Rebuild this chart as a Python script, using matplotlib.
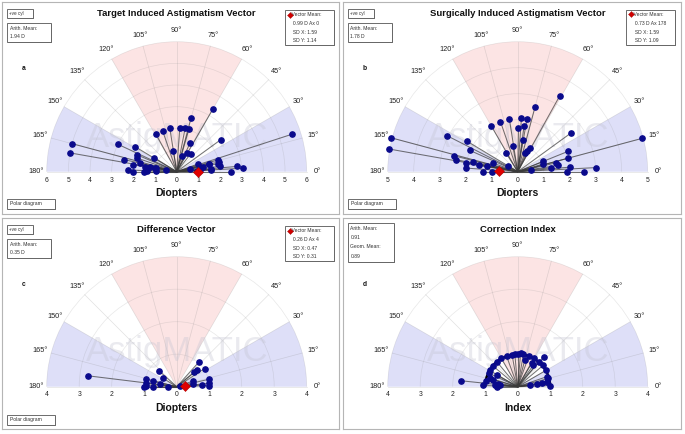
import numpy as np
import matplotlib
matplotlib.use("Agg")
import matplotlib.pyplot as plt
from matplotlib.patches import Wedge, Arc, Rectangle

plt.rcParams['font.family'] = ['Liberation Sans', 'DejaVu Sans']

# ---------------- data ----------------
titles = ["Target Induced Astigmatism Vector", "Surgically Induced Astigmatism Vector",
          "Difference Vector", "Correction Index"]
panel_letters = ["a", "b", "c", "d"]
axis_names = ["Diopters", "Diopters", "Diopters", "Index"]
range_max = [6, 5, 4, 4]

# Target induced astigmatism: magnitude (D) and axis (deg)
tia_mag = [3.35, 2.55, 2.04, 2.04, 2.05, 2.05, 2.0, 2.0, 5.58, 2.52, 1.45, 0.98, 0.99, 1.05, 0.76,
           5.0, 4.99, 2.99, 2.24, 2.0, 1.23, 2.49, 2.02, 1.73, 1.48, 1.25, 0.99, 2.23, 2.0, 1.5, 0.97,
           1.03, 1.25, 1.55, 2.02, 2.01, 2.78, 3.05, 2.5, 1.57, 0.92, 1.55, 2.0, 1.96, 1.92, 1.0, 1.38,
           0.5, 0.6, 1.08, 1.6]
tia_ax = [60, 75, 86, 79, 74, 99, 109, 119, 18, 36, 65, 99, 62, 52, 72,
          165, 170, 155, 149, 157, 148, 167, 171, 167, 171, 169, 169, 178, 180, 180, 177,
          20, 11, 13, 13, 7, 5, 3, 0, 4, 3, 14, 16, 11, 161, 171, 178,
          170, 10, 4, 3]

# Surgically induced astigmatism
sia_mag = [3.32, 2.57, 2.02, 2.04, 2.05, 2.07, 2.05, 1.78, 1.67, 1.23, 1.01, 0.86, 0.78, 1.02, 0.89,
           4.96, 2.54, 2.1, 2.02, 1.52, 1.55, 1.06, 1.01, 1.28, 2.03, 3.02, 2.56, 1.88, 0.5,
           5.05, 5.04, 3.05, 2.26, 2.01, 2.51, 2.43, 2.02, 1.75, 1.5, 1.22, 0.99, 2.0, 1.32, 1.0, 0.43]
sia_ax = [61, 75, 120, 109, 99, 86, 80, 82, 89, 81, 101, 122, 69, 62, 65,
          15, 36, 22, 15, 13, 9, 22, 17, 7, 5, 3, 0, 0, 7,
          165, 170, 153, 149, 156, 166, 169, 171, 168, 170, 169, 161, 176, 180, 180, 147]

# Difference vector
dv_mag = [2.74, 0.73, 0.49, 0.98, 0.96, 1.0, 0.76, 0.74, 0.52, 0.26, 1.04, 0.8, 1.02, 0.71, 0.52,
          1.03, 1.0, 1.0, 0.77, 0.52, 0.95, 0.1]
dv_ax = [173, 138, 148, 166, 174, 180, 167, 180, 171, 180, 48, 39, 33, 40, 19,
         13, 6, 2, 4, 9, 178, 20]

# Correction index
ci_mag = [1.74, 1.06, 0.89, 0.78, 0.74, 0.6, 0.65, 0.85, 0.84, 0.81, 1.22, 0.38, 0.59, 0.75, 0.9,
          0.98, 1.0, 0.96, 0.99, 1.0, 1.02, 1.01, 1.03, 1.0, 1.02, 1.03, 1.01, 1.02, 1.0, 0.99,
          1.01, 1.0, 0.98, 1.0, 1.0, 0.55, 0.7]
ci_ax = [174, 178, 163, 164, 151, 173, 180, 75, 59, 54, 49, 8, 7, 8, 10,
         15, 2, 19, 155, 30, 40, 50, 60, 70, 80, 85, 90, 95, 100, 110,
         120, 130, 140, 150, 170, 175, 176]

mags = [tia_mag, sia_mag, dv_mag, ci_mag]
axes_deg = [tia_ax, sia_ax, dv_ax, ci_ax]

mean_mag = [0.99, 0.73, 0.26, None]
mean_ax = [0, 178, 4, None]
legend_lines = [["0.99 D Ax 0", "SD X: 1.59", "SD Y: 1.14"],
                ["0.73 D Ax 178", "SD X: 1.59", "SD Y: 1.09"],
                ["0.26 D Ax 4", "SD X: 0.47", "SD Y: 0.31"],
                None]
mean_box = [["Arith. Mean:", "1.94 D"], ["Arith. Mean:", "1.78 D"],
            ["Arith. Mean:", "0.35 D"], ["Arith. Mean:", "0.91", "Geom. Mean:", "0.89"]]
angle_ticks = [0, 15, 30, 45, 60, 75, 90, 105, 120, 135, 150, 165, 180]

# ---------------- layout ----------------
FW, FH = 685, 434
fig = plt.figure(figsize=(FW / 100, FH / 100), dpi=100)

panels = [(2, 2, 337, 212), (343, 2, 338, 212), (2, 218, 337, 211), (343, 218, 338, 211)]
centers = [(174.7, 169.7), (174.7, 169.7), (174.7, 168.7), (174.7, 168.7)]
R = 130.0

DOT = '#0a0a8c'
PINK = '#fce4e4'
BLUE = '#dedff8'


def box(ax, W, H, x0, y0, x1, y1, lines, fs=3.8, ys=None, xpad=2.5):
    ax.add_patch(Rectangle(((x0 + 1) / W, 1 - (y1 + 1) / H), (x1 - x0) / W, (y1 - y0) / H,
                           transform=ax.transAxes, facecolor='#9a9a9a', edgecolor='none', zorder=9))
    ax.add_patch(Rectangle((x0 / W, 1 - y1 / H), (x1 - x0) / W, (y1 - y0) / H,
                           transform=ax.transAxes, facecolor='white', edgecolor='#555555',
                           lw=0.6, zorder=10))
    for k, t in enumerate(lines):
        ax.text((x0 + xpad) / W, 1 - ys[k] / H, t, transform=ax.transAxes, fontsize=fs,
                color='#333333', ha='left', va='center', zorder=11)


for i in range(4):
    L, T, W, H = panels[i]
    cx, cy = centers[i]
    rmax = range_max[i]
    s = rmax / R
    ax = fig.add_axes([L / FW, 1 - (T + H) / FH, W / FW, H / FH])
    ax.set_xlim(-cx * s, (W - cx) * s)
    ax.set_ylim(-(H - cy) * s, cy * s)
    ax.set_xticks([])
    ax.set_yticks([])
    for sp in ax.spines.values():
        sp.set_color('#b5b5b5')
        sp.set_linewidth(0.8)

    # sectors
    ax.add_patch(Wedge((0, 0), rmax, 60, 120, facecolor=PINK, edgecolor='none', zorder=1))
    ax.add_patch(Wedge((0, 0), rmax, 0, 30, facecolor=BLUE, edgecolor='none', zorder=1))
    ax.add_patch(Wedge((0, 0), rmax, 150, 180, facecolor=BLUE, edgecolor='none', zorder=1))
    # grid
    for k in range(1, rmax + 1):
        ax.add_patch(Arc((0, 0), 2 * k, 2 * k, theta1=0, theta2=180, color='#8a8a8a',
                         lw=0.5, alpha=0.2, zorder=2))
    for a in angle_ticks:
        ar = np.deg2rad(a)
        ax.plot([0, rmax * np.cos(ar)], [0, rmax * np.sin(ar)], color='#8a8a8a', lw=0.5,
                alpha=0.25, zorder=2)
    # angle labels
    for a in angle_ticks:
        ar = np.deg2rad(a)
        rr = 141 * s
        ax.text(rr * np.cos(ar), rr * np.sin(ar), f"{a}°", fontsize=5.3, ha='center',
                va='center', color='#222222', zorder=3)
    # x tick labels
    for v in range(-rmax, rmax + 1):
        ax.text(v, -8.3 * s, f"{abs(v)}", fontsize=4.9, ha='center', va='center',
                color='#222222', zorder=3)
    # watermark
    ax.text(0, 34.7 * s, "AstigMATIC", fontsize=25, ha='center', va='center',
            color='#c4c4d2', alpha=0.35, zorder=3)
    # axis name
    ax.text(0, -21.5 * s, axis_names[i], fontsize=7.5, fontweight='bold', ha='center',
            va='center', color='#111111', zorder=3)
    # title
    ax.text(0, (cy - 12) * s, titles[i], fontsize=6.8, fontweight='bold', ha='center',
            va='center', color='#111111', zorder=3)
    # panel letter
    ax.text(-(cx - 22) * s, (cy - 66) * s, panel_letters[i], fontsize=4.8, fontweight='bold',
            ha='center', va='center', color='#111111', zorder=3)

    # reference unit circle for correction index
    if i == 3:
        ax.add_patch(Arc((0, 0), 2, 2, theta1=0, theta2=180, color='black', lw=1.8, zorder=5))

    # data lines and points
    m = np.array(mags[i])
    th = np.deg2rad(np.array(axes_deg[i]))
    xs = m * np.cos(th)
    ys = m * np.sin(th)
    for x, y in zip(xs, ys):
        ax.plot([0, x], [0, y], color='#3a3a3a', lw=0.75, alpha=0.7, zorder=4,
                solid_capstyle='butt')
    ax.plot(xs, ys, 'o', color=DOT, ms=3.8, mec=DOT, zorder=6, clip_on=False)

    if mean_mag[i] is not None:
        mt = np.deg2rad(mean_ax[i])
        ax.plot([mean_mag[i] * np.cos(mt)], [mean_mag[i] * np.sin(mt)], 'D', color='#e00000',
                ms=4.8, mec='#b00000', mew=0.4, zorder=7, clip_on=False)

    # boxes
    if i < 3:
        box(ax, W, H, 5, 7, 31, 16, ["+ve cyl"], fs=3.3, ys=[11.5], xpad=2)
        box(ax, W, H, 5, 21, 49, 40, mean_box[i], fs=3.6, ys=[26.5, 35])
        box(ax, W, H, 5, 197, 53, 207, ["Polar diagram"], fs=3.6, ys=[202], xpad=3)
        box(ax, W, H, 283, 8, 332, 43, ["    Vector Mean:"] + ["     " + t for t in legend_lines[i]],
            fs=3.6, ys=[12.5, 21.3, 30.3, 38.7], xpad=1.5)
        ax.plot([(287.5 - cx) * s], [(cy - 12.5) * s], 'D', color='#d00000', ms=3,
                mec='#a00000', mew=0.3, zorder=12)
    else:
        box(ax, W, H, 5, 5, 51, 44, mean_box[i], fs=3.6, ys=[10, 19.5, 29, 38.5])

fig.savefig("out.png", dpi=100)
